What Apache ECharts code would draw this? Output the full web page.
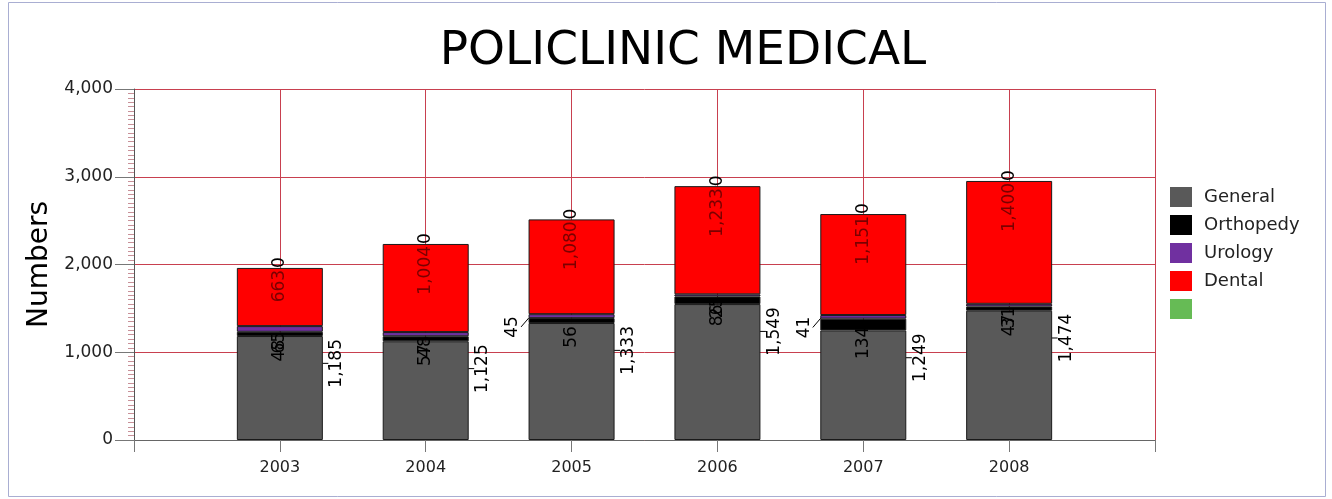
<!DOCTYPE html>
<html><head><meta charset="utf-8">
<script src="https://cdn.jsdelivr.net/npm/echarts@6/dist/echarts.min.js"></script>
<style>html,body{margin:0;padding:0;background:#fff}#c{width:1332px;height:499px}</style>
</head><body><div id="c"></div>
<script>
const years = ['2003','2004','2005','2006','2007','2008'];
const general = [1185,1125,1333,1549,1249,1474];
const orthopedy = [48,57,56,86,134,47];
const urology = [65,48,45,25,41,31];
const dental = [663,1004,1080,1233,1151,1400];
const other = [0,0,0,0,0,0];
const yMin = 0, yMax = 4000, yStep = 1000;

const cats = [''].concat(years, ['']);
const pad = a => ['-'].concat(a, ['-']);
const fmt = p => Number(p.value).toLocaleString('en-US');
const FONT = 'DejaVu Sans';
const urologyOutside = {3: true, 5: true}; // padded indices for 2005, 2007
// labels are rotated 90deg: local dx = -screenDy, local dy = screenDx
const shift = (sx, sy) => ({dx: -sy, dy: sx});

const baseLabel = {show: true, rotate: 90, align: 'right', verticalAlign: 'middle',
  fontFamily: FONT, fontSize: 17, color: '#000', formatter: fmt};
const bw = 86;
const border = {borderColor: '#1a1a1a', borderWidth: 1};

const chart = echarts.init(document.getElementById('c'));
chart.setOption({
  animation: false,
  backgroundColor: '#fff',
  title: {text: 'POLICLINIC MEDICAL', left: 678, top: 23, textAlign: 'center',
    textStyle: {fontFamily: FONT, fontSize: 47, fontWeight: 'normal', color: '#000'}},
  graphic: [{type: 'rect', shape: {x: 8.5, y: 2.5, width: 1317, height: 494},
    style: {fill: 'none', stroke: '#a9aed2', lineWidth: 1}, silent: true}],
  legend: {orient: 'vertical', left: 1165, top: 182, itemWidth: 22, itemHeight: 20, itemGap: 8,
    icon: 'rect', itemStyle: {borderWidth: 0},
    textStyle: {fontFamily: FONT, fontSize: 18, color: '#222', padding: [0, 0, 0, 7]},
    data: ['General','Orthopedy','Urology','Dental',' ']},
  grid: {left: 134, right: 177, top: 89, bottom: 59, containLabel: false},
  xAxis: {type: 'category', data: cats, boundaryGap: false,
    axisLine: {lineStyle: {color: '#666'}},
    axisTick: {show: true, length: 12, interval: 0, lineStyle: {color: '#777'}},
    axisLabel: {fontFamily: FONT, fontSize: 16, color: '#222', margin: 20, interval: 0},
    splitLine: {show: true, interval: 0, lineStyle: {color: '#c8404f', width: 1}}},
  yAxis: {type: 'value', min: yMin, max: yMax, interval: yStep,
    name: 'Numbers', nameLocation: 'middle', nameRotate: 90, nameGap: 80,
    nameTextStyle: {fontFamily: FONT, fontSize: 28, color: '#000'},
    axisLine: {show: true, lineStyle: {color: '#555'}},
    axisTick: {show: true, length: 19, lineStyle: {color: '#777'}},
    minorTick: {show: true, splitNumber: 20, length: 6, lineStyle: {color: '#c89098'}},
    axisLabel: {fontFamily: FONT, fontSize: 17, color: '#222', margin: 21},
    splitLine: {show: true, lineStyle: {color: '#c8404f', width: 1}}},
  series: [
    {name: 'General', type: 'bar', stack: 't', barWidth: bw, data: pad(general),
      itemStyle: Object.assign({color: '#595959'}, border),
      label: Object.assign({}, baseLabel, {position: ['50%', 0]}),
      labelLayout: () => shift(57, 3),
      labelLine: {show: true, lineStyle: {color: '#000', width: 1}}},
    {name: 'Orthopedy', type: 'bar', stack: 't', barWidth: bw, data: pad(orthopedy),
      itemStyle: Object.assign({color: '#000000'}, border),
      label: Object.assign({}, baseLabel, {position: ['50%', 0]}),
      labelLayout: () => shift(0, 8)},
    {name: 'Urology', type: 'bar', stack: 't', barWidth: bw, data: pad(urology),
      itemStyle: Object.assign({color: '#7030a0'}, border),
      label: Object.assign({}, baseLabel, {position: ['50%', '100%']}),
      labelLayout: p => urologyOutside[p.dataIndex] ? shift(-59, -2) : shift(0, 0),
      labelLine: {show: true, lineStyle: {color: '#000', width: 1}}},
    {name: 'Dental', type: 'bar', stack: 't', barWidth: bw, data: pad(dental),
      itemStyle: Object.assign({color: '#ff0000'}, border),
      label: Object.assign({}, baseLabel, {position: ['50%', 0], color: '#7a0000'}),
      labelLayout: () => shift(0, 2)},
    {name: ' ', type: 'bar', stack: 't', barWidth: bw, data: pad(other),
      itemStyle: {color: '#66bb55'},
      label: Object.assign({}, baseLabel, {position: ['50%', 0], align: 'left'})}
  ]
});
</script></body></html>
